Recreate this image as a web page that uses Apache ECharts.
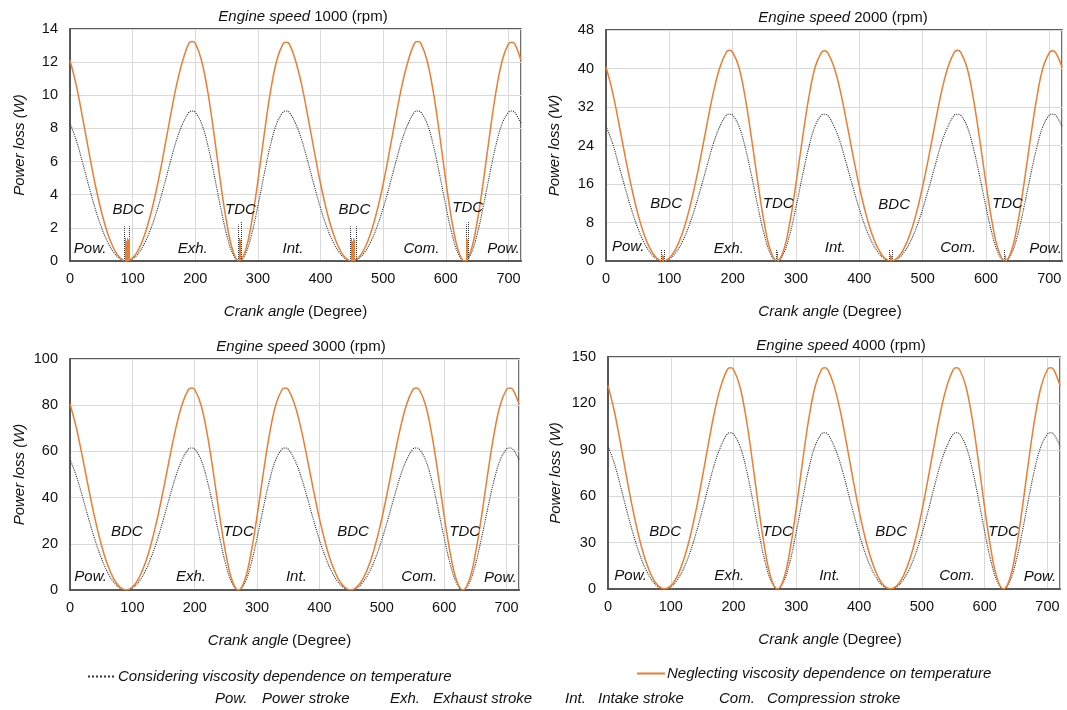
<!DOCTYPE html>
<html><head><meta charset="utf-8">
<script src="https://cdn.jsdelivr.net/npm/echarts@6/dist/echarts.min.js"></script>
<style>html,body{margin:0;padding:0;background:#fff}#c{width:1067px;height:710px}</style>
</head><body><div id="c"></div>
<script>
// ---- DATA ----
const angles = [0,10,20,30,40,50,60,70,80,90,100,110,120,130,140,150,160,170,180,190,195,200,210,220,230,240,250,260,270,280,290,300,310,320,330,340,345,350,
  360,370,380,390,400,410,420,430,440,450,460,470,480,490,500,510,520,530,540,550,555,560,570,580,590,600,610,620,630,640,650,660,670,680,690,700,705,710,720];

const neglecting1000 = [12.1,10.6,8.67,6.61,4.66,3.0,1.68,0.74,0.18,0,0.18,0.74,1.68,3.0,4.66,6.61,8.67,10.6,12.1,13.15,13.25,13.15,12.1,10.2,7.63,4.84,2.35,0.62,0,0.62,2.35,4.84,7.63,10.2,12.1,13.1,13.2,13.1,
  12.1,10.6,8.67,6.61,4.66,3.0,1.68,0.74,0.18,0,0.18,0.74,1.68,3.0,4.66,6.61,8.67,10.6,12.1,13.15,13.25,13.15,12.1,10.2,7.63,4.84,2.35,0.62,0,0.62,2.35,4.84,7.63,10.2,12.1,13.1,13.2,13.1,12.1];
const considering1000 = [8.3,7.29,5.95,4.53,3.19,2.05,1.15,0.51,0.13,0,0.13,0.51,1.15,2.05,3.19,4.53,5.95,7.29,8.3,8.98,9.05,8.98,8.3,6.99,5.23,3.32,1.61,0.43,0,0.43,1.61,3.32,5.23,6.99,8.3,8.98,9.05,8.98,
  8.3,7.29,5.95,4.53,3.19,2.05,1.15,0.51,0.13,0,0.13,0.51,1.15,2.05,3.19,4.53,5.95,7.29,8.3,8.98,9.05,8.98,8.3,6.99,5.23,3.32,1.61,0.43,0,0.43,1.61,3.32,5.23,6.99,8.3,8.98,9.05,8.98,8.3];

const neglecting2000 = [40.3,35.3,28.8,21.9,15.5,9.94,5.56,2.45,0.61,0,0.61,2.45,5.56,9.94,15.5,21.9,28.8,35.3,40.3,43.4,43.8,43.4,40.2,33.8,25.3,16.1,7.8,2.06,0,2.06,7.8,16.1,25.3,33.8,40.2,43.3,43.7,43.3,
  40.3,35.3,28.8,21.9,15.5,9.94,5.56,2.45,0.61,0,0.61,2.45,5.56,9.94,15.5,21.9,28.8,35.3,40.3,43.4,43.8,43.4,40.2,33.8,25.3,16.1,7.8,2.06,0,2.06,7.8,16.1,25.3,33.8,40.2,43.3,43.7,43.3,40.3];
const considering2000 = [28.0,24.6,20.0,15.3,10.8,6.92,3.87,1.71,0.43,0,0.43,1.71,3.87,6.92,10.8,15.3,20.0,24.6,28.0,30.3,30.5,30.3,28.0,23.5,17.6,11.2,5.43,1.43,0,1.43,5.43,11.2,17.6,23.5,28.0,30.3,30.5,30.3,
  28.0,24.6,20.0,15.3,10.8,6.92,3.87,1.71,0.43,0,0.43,1.71,3.87,6.92,10.8,15.3,20.0,24.6,28.0,30.3,30.5,30.3,28.0,23.5,17.6,11.2,5.43,1.43,0,1.43,5.43,11.2,17.6,23.5,28.0,30.3,30.5,30.3,28.0];

const neglecting3000 = [80.5,70.4,57.5,43.8,30.9,19.9,11.1,4.9,1.23,0,1.23,4.9,11.1,19.9,30.9,43.8,57.5,70.4,80.5,86.8,87.5,86.8,80.2,67.6,50.6,32.1,15.6,4.11,0,4.11,15.6,32.1,50.6,67.6,80.2,86.8,87.5,86.8,
  80.5,70.4,57.5,43.8,30.9,19.9,11.1,4.9,1.23,0,1.23,4.9,11.1,19.9,30.9,43.8,57.5,70.4,80.5,86.8,87.5,86.8,80.2,67.6,50.6,32.1,15.6,4.11,0,4.11,15.6,32.1,50.6,67.6,80.2,86.8,87.5,86.8,80.5];
const considering3000 = [56.5,49.5,40.4,30.8,21.7,14.0,7.81,3.44,0.86,0,0.86,3.44,7.81,14.0,21.7,30.8,40.4,49.5,56.5,61.0,61.5,61.0,56.4,47.5,35.5,22.6,10.9,2.89,0,2.89,10.9,22.6,35.5,47.5,56.4,61.0,61.5,61.0,
  56.5,49.5,40.4,30.8,21.7,14.0,7.81,3.44,0.86,0,0.86,3.44,7.81,14.0,21.7,30.8,40.4,49.5,56.5,61.0,61.5,61.0,56.4,47.5,35.5,22.6,10.9,2.89,0,2.89,10.9,22.6,35.5,47.5,56.4,61.0,61.5,61.0,56.5];

const neglecting4000 = [131.5,115.1,94.0,71.6,50.5,32.5,18.2,8.01,2.0,0,2.0,8.01,18.2,32.5,50.5,71.6,94.0,115.1,131.5,141.9,143.0,141.9,131.1,110.4,82.7,52.5,25.5,6.72,0,6.72,25.5,52.5,82.7,110.4,131.1,141.9,143.0,141.9,
  131.5,115.1,94.0,71.6,50.5,32.5,18.2,8.01,2.0,0,2.0,8.01,18.2,32.5,50.5,71.6,94.0,115.1,131.5,141.9,143.0,141.9,131.1,110.4,82.7,52.5,25.5,6.72,0,6.72,25.5,52.5,82.7,110.4,131.1,141.9,143.0,141.9,131.5];
const considering4000 = [92.5,81.3,66.4,50.6,35.7,22.9,12.8,5.66,1.41,0,1.41,5.66,12.8,22.9,35.7,50.6,66.4,81.3,92.5,100.2,101.0,100.2,92.6,78.0,58.4,37.1,18.0,4.75,0,4.75,18.0,37.1,58.4,78.0,92.6,100.2,101.0,100.2,
  92.5,81.3,66.4,50.6,35.7,22.9,12.8,5.66,1.41,0,1.41,5.66,12.8,22.9,35.7,50.6,66.4,81.3,92.5,100.2,101.0,100.2,92.6,78.0,58.4,37.1,18.0,4.75,0,4.75,18.0,37.1,58.4,78.0,92.6,100.2,101.0,100.2,92.5];

// numerical spikes near dead centres [angle, height]
const spikesConsidering1000 = [[86,2.1],[95,2.1],[269,2.2],[274,2.4],[448,2.1],[457,2.1],[632,2.2],[636,2.4]];
const spikesNeglecting1000 = [[88,1.4],[89.5,1.2],[91,1.4],[92.5,1.3],[94,1.4],[270.5,1.4],[272,1.3],[449.5,1.4],[451,1.2],[452.5,1.4],[454,1.3],[633,1.4],[634.5,1.3]];
const spikesConsidering2000 = [[88,2.3],[92,2.3],[269,2.3],[271,2.0],[448,2.3],[452,2.3],[629,2.3]];
const spikesNeglecting2000 = [[89,1.3],[91,1.1],[270,1.2],[449,1.3],[451,1.1],[630,1.2]];

const speeds = ['1000','2000','3000','4000'];
const yMaxes = [14,48,100,150];
const ySteps = [2,8,20,30];
const xTickStep = 100;

// annotations [angle, value, text]
const marks1000 = [[93,3.1,'BDC'],[272,3.1,'TDC'],[454,3.1,'BDC'],[635,3.2,'TDC'],[32,0.72,'Pow.'],[196,0.72,'Exh.'],[356,0.72,'Int.'],[561,0.72,'Com.'],[692,0.72,'Pow.']];
const marks2000 = [[95,11.8,'BDC'],[272,11.8,'TDC'],[455,11.6,'BDC'],[634,11.8,'TDC'],[35,2.9,'Pow.'],[194,2.6,'Exh.'],[362,2.7,'Int.'],[556,2.7,'Com.'],[694,2.6,'Pow.']];
const marks3000 = [[91,25,'BDC'],[270,25,'TDC'],[454,25,'BDC'],[633,25,'TDC'],[33,5.6,'Pow.'],[194,5.6,'Exh.'],[363,5.8,'Int.'],[560,5.6,'Com.'],[690,5.4,'Pow.']];
const marks4000 = [[91,37,'BDC'],[270,37,'TDC'],[451,37,'BDC'],[630,37,'TDC'],[36,8.7,'Pow.'],[193,8.4,'Exh.'],[353,8.4,'Int.'],[556,8.4,'Com.'],[688,7.6,'Pow.']];

const nameCon = 'Considering viscosity dependence on temperature';
const nameNeg = 'Neglecting viscosity dependence on temperature';
const strokeKey = [['Pow.','Power stroke'],['Exh.','Exhaust stroke'],['Int.','Intake stroke'],['Com.','Compression stroke']];

// ---- LAYOUT / STYLE ----
const FONT = '"Liberation Sans", Arial, sans-serif';
const TXT = '#111';
const ORANGE = '#ED7D31';
const grids = [
  {left:70, top:29, width:451, height:232},
  {left:606, top:30, width:456, height:231},
  {left:70, top:359, width:449, height:231},
  {left:608, top:357, width:452, height:232}
];
const titleCenters = [[298,4],[838,5],[296,334],[836,333]];
const yNameGaps = [43,44,43,45];
const xNamePad = [[0,0,0,0],[0,8,0,0],[0,30,0,0],[0,8,0,0]];

const negAll = [neglecting1000,neglecting2000,neglecting3000,neglecting4000];
const conAll = [considering1000,considering2000,considering3000,considering4000];
const marksAll = [marks1000,marks2000,marks3000,marks4000];
const spikesCon = [spikesConsidering1000,spikesConsidering2000,[],[]];
const spikesNeg = [spikesNeglecting1000,spikesNeglecting2000,[],[]];

const zip = vals => angles.map((a,i)=>[a, vals[i]]);
const spikeLines = arr => arr.map(([x,h]) => [{coord:[x,0]},{coord:[x,h]}]);
const richIN = {
  i:{fontStyle:'italic',fontWeight:'normal',fontSize:15,color:TXT,fontFamily:FONT},
  n:{fontStyle:'normal',fontWeight:'normal',fontSize:15,color:TXT,fontFamily:FONT}
};

const option = {
  animation:false,
  textStyle:{fontFamily:FONT},
  title: speeds.map((s,i)=>({
    text:'{i|Engine speed} {n|'+s+' (rpm)}',
    left:titleCenters[i][0], top:titleCenters[i][1], textAlign:'center',
    textStyle:{fontWeight:'normal',fontSize:15,color:TXT,rich:richIN}
  })),
  grid: grids.map(g=>Object.assign({show:true,borderColor:'#262626',borderWidth:1.3,backgroundColor:'transparent'},g)),
  xAxis: grids.map((g,i)=>({
    type:'value', gridIndex:i, min:0, max:720, interval:xTickStep,
    name:'{i|Crank angle} {n|(Degree)}', nameLocation:'middle', nameGap:43,
    nameTextStyle:{padding:xNamePad[i],rich:richIN},
    axisLine:{show:true,onZero:false,lineStyle:{color:'#595959',width:2}},
    axisTick:{show:false},
    axisLabel:{fontSize:14.5,color:TXT,margin:10,formatter:v=> v===720?'':String(v)},
    splitLine:{show:true,lineStyle:{color:'#d9d9d9',width:1}}
  })),
  yAxis: grids.map((g,i)=>({
    type:'value', gridIndex:i, min:0, max:yMaxes[i], interval:ySteps[i],
    name:'Power loss (W)', nameLocation:'middle', nameGap:yNameGaps[i],
    nameTextStyle:{fontStyle:'italic',fontSize:15,color:TXT},
    axisLine:{show:true,lineStyle:{color:'#595959',width:2}},
    axisTick:{show:false},
    axisLabel:{fontSize:14.5,color:TXT,margin:12},
    splitLine:{show:true,lineStyle:{color:'#d9d9d9',width:1}}
  })),
  legend:[
    {data:[nameCon], left:82, top:664, itemWidth:28, itemHeight:10, itemGap:4,
     itemStyle:{opacity:0},
     textStyle:{fontStyle:'italic',fontSize:15,color:TXT,padding:[0,0,0,-3]}},
    {data:[nameNeg], left:631, top:661, itemWidth:28, itemHeight:10, itemGap:4,
     itemStyle:{opacity:0},
     textStyle:{fontStyle:'italic',fontSize:15,color:TXT,padding:[0,0,0,-3]}}
  ],
  graphic: (function(){
    const xs = [[215,262],[390,433],[565,598],[719,767]];
    const out = [];
    strokeKey.forEach((k,j)=>{
      out.push({type:'text',left:xs[j][0],top:691,silent:true,style:{text:k[0],font:'italic 15px '+FONT,fill:TXT}});
      out.push({type:'text',left:xs[j][1],top:691,silent:true,style:{text:k[1],font:'italic 15px '+FONT,fill:TXT}});
    });
    return out;
  })(),
  series: []
};

speeds.forEach((s,i)=>{
  option.series.push({
    name:nameCon, type:'line', xAxisIndex:i, yAxisIndex:i, data:zip(conAll[i]),
    smooth:0.4, symbol:'none', z:3,
    lineStyle:{color:'#333',width:1.1,type:'dotted'}, itemStyle:{color:'#333'},
    markLine: spikesCon[i].length? {silent:true,symbol:'none',label:{show:false},animation:false,
      lineStyle:{color:'#333',width:1,type:'dotted'},data:spikeLines(spikesCon[i])}:undefined
  });
  option.series.push({
    name:nameNeg, type:'line', xAxisIndex:i, yAxisIndex:i, data:zip(negAll[i]),
    smooth:0.4, symbol:'none', z:4,
    lineStyle:{color:ORANGE,width:1.5,type:'solid'}, itemStyle:{color:ORANGE},
    markLine: spikesNeg[i].length? {silent:true,symbol:'none',label:{show:false},animation:false,
      lineStyle:{color:ORANGE,width:1,type:'solid'},data:spikeLines(spikesNeg[i])}:undefined
  });
  option.series.push({
    type:'scatter', xAxisIndex:i, yAxisIndex:i, data:marksAll[i], symbolSize:0, silent:true, z:6,
    itemStyle:{color:TXT, opacity:1},
    label:{show:true,position:'inside',formatter:p=>p.value[2],fontStyle:'italic',fontSize:15,color:TXT,opacity:1,fontFamily:FONT,textBorderWidth:0}
  });
});

const chart = echarts.init(document.getElementById('c'), null, {renderer:'canvas'});
chart.setOption(option);
</script></body></html>
